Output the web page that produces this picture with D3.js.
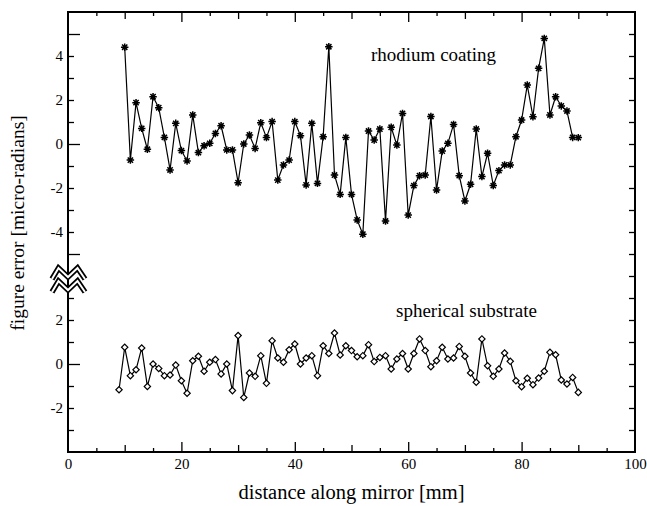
<!DOCTYPE html>
<html>
<head>
<meta charset="utf-8">
<script src="https://cdn.jsdelivr.net/npm/d3@7"></script>
<style>
  html, body { margin: 0; padding: 0; background: #fff; }
  svg { display: block; font-family: "Liberation Serif", "Times New Roman", serif; }
</style>
</head>
<body>
<svg id="chart" width="647" height="506"></svg>
<script>
// rhodium coating, x = 10..90 mm
var rhodiumX = [10,11,12,13,14,15,16,17,18,19,20,21,22,23,24,25,26,27,28,29,30,31,32,33,34,35,36,37,38,39,40,
  41,42,43,44,45,46,47,48,49,50,51,52,53,54,55,56,57,58,59,60,61,62,63,64,65,66,67,68,69,70,
  71,72,73,74,75,76,77,78,79,80,81,82,83,84,85,86,87,88,89,90];
var rhodiumY = [4.4,-0.73,1.88,0.71,-0.24,2.15,1.65,0.3,-1.18,0.94,-0.3,-0.77,1.32,-0.39,-0.08,0.03,0.48,0.83,-0.27,-0.27,-1.76,
  0.0,0.41,-0.2,0.97,0.29,1.02,-1.64,-0.95,-0.73,1.02,0.38,-1.86,0.94,-1.79,0.33,4.42,-1.41,-2.29,0.3,-2.29,
  -3.45,-4.1,0.59,0.18,0.68,-3.5,0.76,-0.05,1.39,-3.23,-1.89,-1.44,-1.41,1.25,-2.09,-0.32,0.03,0.89,-1.44,-2.59,
  -1.83,0.68,-1.48,-0.42,-1.89,-1.21,-0.95,-0.95,0.33,1.09,2.68,1.24,3.44,4.8,1.32,2.15,1.73,1.5,0.3,0.29];

// spherical substrate, x = 9..90 mm
var substrateX = [9,10,11,12,13,14,15,16,17,18,19,20,21,22,23,24,25,26,27,28,29,30,31,32,33,34,35,36,37,38,39,40,
  41,42,43,44,45,46,47,48,49,50,51,52,53,54,55,56,57,58,59,60,61,62,63,64,65,66,67,68,69,70,
  71,72,73,74,75,76,77,78,79,80,81,82,83,84,85,86,87,88,89,90];
var substrateY = [-1.17,0.76,-0.53,-0.26,0.73,-1.02,0,-0.2,-0.53,-0.5,-0.05,-0.76,-1.33,0.15,0.35,-0.33,0.08,0.2,-0.45,0,-1.21,
  1.29,-1.52,-0.41,-0.56,0.38,-0.88,1.06,0.27,0.08,0.65,0.91,0,0.27,0.38,-0.53,0.83,0.48,1.41,0.41,0.83,
  0.61,0.33,0.38,0.88,0.11,0.3,0.38,-0.23,0.23,0.48,-0.23,0.48,1.14,0.61,-0.12,0.15,0.76,0.23,0.27,0.8,
  0.35,-0.41,-0.83,1.14,-0.08,-0.56,-0.23,0.5,0.12,-0.76,-1.03,-0.65,-0.94,-0.64,-0.33,0.53,0.42,-0.73,-0.91,-0.61,-1.29];

var xTickLabels = [0, 20, 40, 60, 80, 100];
var xTicks = [5,10,15,20,25,30,35,40,45,50,55,60,65,70,75,80,85,90,95];
var topTickLabels = [4, 2, 0, -2, -4];
var topTicks = [5,4,3,2,1,0,-1,-2,-3,-4,-5];
var botTickLabels = [2, 0, -2];
var botTicks = [3,2,1,0,-1,-2,-3];
var botTicksRight = [4,3,2,1,0,-1,-2,-3];

var serif = '"Liberation Serif", "Times New Roman", serif';
var plotLeft = 68, plotRight = 635, plotTop = 12, plotBottom = 452, plotMid = 276;

var svg = d3.select("#chart");

var x = d3.scaleLinear().domain([0, 100]).range([plotLeft, plotRight]),
    yTop = d3.scaleLinear().domain([-6, 6]).range([plotMid, plotTop]),
    yBot = d3.scaleLinear().domain([-4, 4]).range([plotBottom, plotMid]);

function fmt(d) { return String(d); }

// --- ticks (inward) ---
function xLen(v) { return v % 20 === 0 ? 10 : (v % 10 === 0 ? 7 : 4); }

var gxb = svg.append("g").attr("transform", "translate(0," + plotBottom + ")")
  .call(d3.axisTop(x).tickValues(xTicks).tickSize(4).tickFormat(""));
gxb.selectAll(".tick line").attr("y2", function(v) { return -xLen(v); });

var gxt = svg.append("g").attr("transform", "translate(0," + plotTop + ")")
  .call(d3.axisBottom(x).tickValues(xTicks).tickSize(4).tickFormat(""));
gxt.selectAll(".tick line").attr("y2", function(v) { return xLen(v); });

function yLen(v) { return v % 5 === 0 ? 12 : 6; }

var glt = svg.append("g").attr("transform", "translate(" + plotLeft + ",0)")
  .call(d3.axisRight(yTop).tickValues(topTicks).tickSize(6).tickFormat(""));
glt.selectAll(".tick line").attr("x2", function(v) { return yLen(v); });

var glb = svg.append("g").attr("transform", "translate(" + plotLeft + ",0)")
  .call(d3.axisRight(yBot).tickValues(botTicks).tickSize(6).tickFormat(""));
glb.selectAll(".tick line").attr("x2", function(v) { return yLen(v); });

svg.append("g").attr("transform", "translate(" + plotRight + ",0)")
  .call(d3.axisLeft(yTop).tickValues(topTicks).tickSize(6).tickFormat(""));
svg.append("g").attr("transform", "translate(" + plotRight + ",0)")
  .call(d3.axisLeft(yBot).tickValues(botTicksRight).tickSize(6).tickFormat(""));

svg.selectAll(".domain").remove();
svg.selectAll(".tick text").remove();
svg.selectAll(".tick line").attr("stroke", "#000").attr("stroke-width", 1.3);

// --- tick labels ---
var lx = svg.append("g").attr("transform", "translate(0," + plotBottom + ")")
  .call(d3.axisBottom(x).tickValues(xTickLabels).tickSize(0).tickPadding(6).tickFormat(fmt));
var ly1 = svg.append("g").attr("transform", "translate(" + plotLeft + ",0)")
  .call(d3.axisLeft(yTop).tickValues(topTickLabels).tickSize(0).tickPadding(5).tickFormat(fmt));
var ly2 = svg.append("g").attr("transform", "translate(" + plotLeft + ",0)")
  .call(d3.axisLeft(yBot).tickValues(botTickLabels).tickSize(0).tickPadding(5).tickFormat(fmt));
[lx, ly1, ly2].forEach(function(g) {
  g.select(".domain").remove();
  g.attr("font-family", serif).attr("font-size", 15);
  g.selectAll("text")
    .attr("fill", "#000")
    .style("font-family", serif)
    .style("font-size", "15px");
});

// --- frame ---
svg.append("rect")
  .attr("x", plotLeft).attr("y", plotTop)
  .attr("width", plotRight - plotLeft).attr("height", plotBottom - plotTop)
  .attr("fill", "none").attr("stroke", "#000").attr("stroke-width", 2);

// --- axis break marks ---
var breakLine = d3.line();
[0, 13].forEach(function(dy) {
  var pts = [[52, 279 + dy], [58.5, 268 + dy], [68, 277 + dy], [77.5, 268 + dy], [85, 279 + dy]];
  svg.append("path").attr("d", breakLine(pts))
    .attr("fill", "none").attr("stroke", "#000").attr("stroke-width", 5.5);
  svg.append("path").attr("d", breakLine(pts))
    .attr("fill", "none").attr("stroke", "#fff").attr("stroke-width", 2);
});

// --- series ---
var asterisk = {
  draw: function(p, size) {
    var r = Math.sqrt(size) / 2, d = r * 0.707;
    p.moveTo(0, -r); p.lineTo(0, r);
    p.moveTo(-r, 0); p.lineTo(r, 0);
    p.moveTo(-d, -d); p.lineTo(d, d);
    p.moveTo(-d, d); p.lineTo(d, -d);
  }
};

var rhodium = rhodiumX.map(function(v, i) { return [v, rhodiumY[i]]; }),
    substrate = substrateX.map(function(v, i) { return [v, substrateY[i]]; });

svg.append("path")
  .datum(rhodium)
  .attr("d", d3.line().x(function(d) { return x(d[0]); }).y(function(d) { return yTop(d[1]); }))
  .attr("fill", "none").attr("stroke", "#000").attr("stroke-width", 1.2);

svg.append("g").selectAll("path")
  .data(rhodium)
  .enter()
  .append("path")
    .attr("transform", function(d) { return "translate(" + x(d[0]) + "," + yTop(d[1]) + ")"; })
    .attr("d", d3.symbol().type(asterisk).size(56))
    .attr("fill", "none").attr("stroke", "#000").attr("stroke-width", 1.5);

svg.append("path")
  .datum(substrate)
  .attr("d", d3.line().x(function(d) { return x(d[0]); }).y(function(d) { return yBot(d[1]); }))
  .attr("fill", "none").attr("stroke", "#000").attr("stroke-width", 1.2);

svg.append("g").selectAll("path")
  .data(substrate)
  .enter()
  .append("path")
    .attr("transform", function(d) { return "translate(" + x(d[0]) + "," + yBot(d[1]) + ") rotate(45)"; })
    .attr("d", d3.symbol().type(d3.symbolSquare).size(20))
    .attr("fill", "#fff").attr("stroke", "#000").attr("stroke-width", 1.2);

// --- texts ---
svg.append("text").attr("x", 371).attr("y", 61).attr("font-size", 19).text("rhodium coating");
svg.append("text").attr("x", 396).attr("y", 317).attr("font-size", 19).text("spherical substrate");

svg.append("text")
  .attr("x", (plotLeft + plotRight) / 2).attr("y", 499)
  .attr("text-anchor", "middle").attr("font-size", 20.5)
  .text("distance along mirror [mm]");

svg.append("text")
  .attr("transform", "translate(24," + 223 + ") rotate(-90)")
  .attr("text-anchor", "middle").attr("font-size", 19.5)
  .text("figure error [micro-radians]");
</script>
</body>
</html>
